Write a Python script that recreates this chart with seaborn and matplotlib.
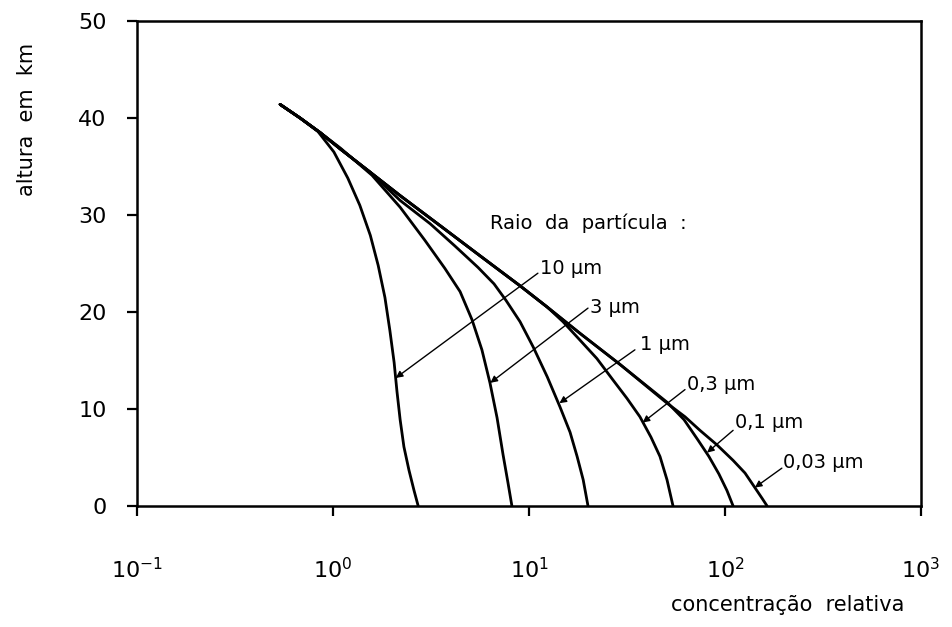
import numpy as np
import pandas as pd
import seaborn as sns
import matplotlib
matplotlib.use("Agg")
import matplotlib.pyplot as plt
from matplotlib.ticker import LogFormatterSciNotation, NullLocator

# Particle radii (labels) and the vertical concentration profiles
radii = ["10 µm", "3 µm", "1 µm", "0,3 µm", "0,1 µm", "0,03 µm"]

r10_c = [0.537, 0.679, 0.838, 1.01, 1.19, 1.37, 1.55, 1.70, 1.84, 1.95, 2.05,
         2.12, 2.20, 2.30, 2.44, 2.59, 2.72]
r10_h = [41.4, 40.0, 38.6, 36.5, 33.8, 31.0, 27.9, 24.8, 21.5, 18.1, 14.8,
         11.8, 8.9, 6.1, 3.7, 1.6, 0.0]

r3_c = [0.537, 0.679, 0.859, 1.09, 1.58, 2.20, 2.94, 3.72, 4.45, 5.12, 5.75,
        6.32, 6.87, 7.37, 7.81, 8.18]
r3_h = [41.4, 40.0, 38.5, 36.9, 34.1, 30.8, 27.4, 24.5, 22.1, 19.2, 16.1,
        12.7, 9.1, 5.3, 2.4, 0.0]

r1_c = [0.537, 0.679, 0.859, 1.09, 1.55, 2.20, 3.13, 4.19, 5.49, 6.63, 7.63,
        9.0, 10.5, 12.4, 14.4, 16.2, 17.6, 18.9, 20.0]
r1_h = [41.4, 40.0, 38.5, 36.8, 34.4, 31.5, 29.1, 26.8, 24.6, 22.9, 21.2,
        19.0, 16.4, 13.3, 10.2, 7.6, 5.1, 2.7, 0.0]

r03_c = [0.537, 0.679, 0.859, 1.09, 1.55, 2.20, 3.52, 5.62, 9.0, 12.4, 14.9,
         18.2, 22.2, 26.8, 31.6, 36.8, 41.9, 46.6, 50.6, 54.3]
r03_h = [41.4, 40.0, 38.5, 36.8, 34.4, 32.0, 28.9, 25.8, 22.7, 20.5, 19.0,
         17.1, 15.2, 13.0, 11.1, 9.2, 7.1, 5.1, 2.7, 0.0]

r01_c = [0.537, 0.679, 0.859, 1.09, 1.55, 2.20, 3.52, 5.62, 9.0, 12.4, 18.2,
         29.1, 50.6, 61.8, 72.8, 82.8, 93.1, 102.3, 110.0]
r01_h = [41.4, 40.0, 38.5, 36.8, 34.4, 32.0, 28.9, 25.8, 22.7, 20.5, 17.8,
         14.6, 10.7, 8.9, 6.8, 5.1, 3.3, 1.6, 0.0]

r003_c = [0.537, 0.679, 0.859, 1.09, 1.55, 2.20, 3.52, 5.62, 9.0, 12.4, 18.2,
          29.1, 50.6, 62.5, 74.5, 91.0, 110.0, 126.5, 142.0, 154.5, 164.0]
r003_h = [41.4, 40.0, 38.5, 36.8, 34.4, 32.0, 28.9, 25.8, 22.7, 20.5, 17.8,
          14.6, 10.6, 9.2, 7.8, 6.3, 4.7, 3.4, 1.9, 0.8, 0.0]

# Label anchor (concentration, height), arrow tail and arrow head for each radius
label_c = [11.4, 20.5, 36.8, 64.0, 112.0, 198.0]
label_h = [24.5, 20.5, 16.6, 12.5, 8.6, 4.5]
tail_c = [11.1, 20.0, 34.7, 62.5, 110.0, 195.0]
tail_h = [24.0, 20.4, 16.1, 12.0, 7.8, 3.9]
head_c = [2.09, 6.35, 14.3, 38.0, 81.0, 142.0]
head_h = [13.2, 12.7, 10.6, 8.6, 5.5, 1.9]

x_ticks = [0.1, 1, 10, 100, 1000]
y_ticks = [0, 10, 20, 30, 40, 50]

profiles = [(r10_c, r10_h), (r3_c, r3_h), (r1_c, r1_h),
            (r03_c, r03_h), (r01_c, r01_h), (r003_c, r003_h)]
frames = []
for name, (c, h) in zip(radii, profiles):
    frames.append(pd.DataFrame({"conc": c, "alt": h, "raio": name}))
df = pd.concat(frames, ignore_index=True)

sns.set_theme(style="ticks")
plt.rcParams["font.family"] = ["DejaVu Sans"]

fig = plt.figure(figsize=(9.53, 6.27), dpi=100)
ax = fig.add_axes([0.1438, 0.193, 0.8226, 0.7735])

sns.lineplot(data=df, x="conc", y="alt", hue="raio", units="raio",
             estimator=None, sort=False, palette=["black"] * len(radii),
             linewidth=2.0, legend=False, ax=ax)

ax.set_xscale("log")
ax.set_xlim(0.1, 1000)
ax.set_ylim(0, 50)
ax.set_xticks(x_ticks)
ax.xaxis.set_major_formatter(LogFormatterSciNotation())
ax.xaxis.set_minor_locator(NullLocator())
ax.set_yticks(y_ticks)
ax.set_xlabel("")
ax.set_ylabel("")

for side in ["left", "right", "top", "bottom"]:
    ax.spines[side].set_visible(True)
    ax.spines[side].set_color("black")
    ax.spines[side].set_linewidth(1.8)

ax.tick_params(axis="both", direction="out", length=7, width=1.6,
               color="black", labelsize=16, labelcolor="black")
ax.tick_params(axis="y", pad=15)
ax.tick_params(axis="x", pad=30)

ax.text(6.33, 29.2, "Raio  da  partícula  :", fontsize=14, va="center",
        ha="left", color="black")
for name, lc, lh, tc, th, hc, hh in zip(radii, label_c, label_h, tail_c, tail_h,
                                         head_c, head_h):
    ax.text(lc, lh, name, fontsize=14, va="center", ha="left", color="black")
    ax.annotate("", xy=(hc, hh), xytext=(tc, th),
                arrowprops=dict(arrowstyle="-|>", color="black", lw=1.0,
                                mutation_scale=10, shrinkA=0, shrinkB=0))

fig.text(0.949, 0.035, "concentração  relativa", fontsize=15, ha="right",
         va="center", color="black")
fig.text(0.028, 0.81, "altura  em  km", fontsize=15, rotation=90, ha="center",
         va="center", color="black")

fig.savefig("out.png", dpi=100, facecolor="white")
